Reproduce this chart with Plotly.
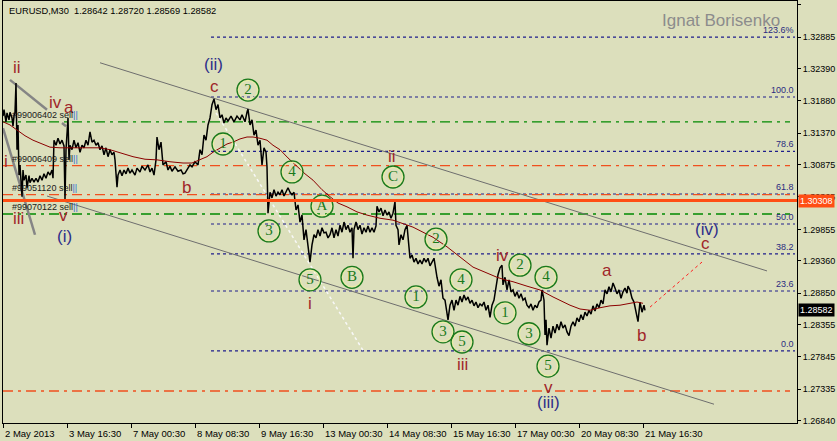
import plotly.graph_objects as go

# ---------------- data ----------------
title_text = "EURUSD,M30  1.28642 1.28720 1.28569 1.28582"

price_bars = [0,1,3,4,6,7,9,10,11,12,13,14,15,16,17,18,19,20,21,23,24,26,27,29,31,33,35,37,39,41,43,45,47,49,50,51,53,55,57,59,61,62,63,65,66,67,69,71,73,75,77,79,81,83,85,87,89,91,93,95,97,99,101,103,105,107,109,111,112,114,115,117,119,121,123,125,127,129,132,134,137,139,142,145,147,149,151,153,154,156,158,160,163,165,167,169,172,175,178,180,182,185,187,189,192,195,197,199,201,203,205,207,209,211,213,215,217,219,221,223,225,228,231,234,237,239,242,244,245,247,249,251,253,255,257,259,261,263,264,265,267,269,271,273,275,277,279,281,283,285,287,289,291,293,295,297,299,301,303,305,307,309,311,313,315,317,319,321,323,325,327,329,331,333,335,337,339,341,343,345,347,349,350,351,353,355,357,359,361,363,365,367,369,371,373,374,376,378,380,382,384,386,388,390,392,393,395,396,398,400,402,404,405,407,409,411,413,415,417,419,421,423,425,427,429,431,434,436,438,440,442,444,445,447,449,451,453,455,457,459,461,463,465,467,469,471,473,475,477,479,481,483,485,487,489,491,493,495,497,499,500,502,504,506,508,510,512,514,516,518,520,522,524,526,528,530,532,534,536,538,539,541,542,543,544,546,548,550,552,554,556,558,560,562,564,566,568,570,572,574,576,578,580,582,584,586,588,590,592,594,596,598,600,602,604,606,608,610,612,614,616,618,620,622,624,625,627,629,631,633,635,637,639,641,642]
price_vals = [1.3164,1.3174,1.3155,1.3169,1.3158,1.3170,1.3161,1.3148,1.3164,1.3170,1.3216,1.3111,1.3150,1.3071,1.3087,1.3055,1.3037,1.3079,1.3063,1.3071,1.3051,1.3070,1.3059,1.3066,1.3060,1.3066,1.3060,1.3070,1.3063,1.3073,1.3066,1.3076,1.3071,1.3079,1.3066,1.3126,1.3118,1.3129,1.3120,1.3126,1.3117,1.3032,1.3111,1.3161,1.3095,1.3118,1.3111,1.3126,1.3114,1.3122,1.3107,1.3118,1.3114,1.3126,1.3118,1.3139,1.3123,1.3126,1.3118,1.3122,1.3111,1.3117,1.3103,1.3114,1.3100,1.3111,1.3103,1.3107,1.3095,1.3052,1.3071,1.3079,1.3070,1.3079,1.3073,1.3082,1.3074,1.3079,1.3071,1.3082,1.3076,1.3085,1.3079,1.3087,1.3076,1.3082,1.3071,1.3095,1.3131,1.3111,1.3123,1.3087,1.3092,1.3079,1.3085,1.3077,1.3084,1.3077,1.3079,1.3073,1.3074,1.3082,1.3087,1.3084,1.3092,1.3087,1.3111,1.3103,1.3134,1.3126,1.3150,1.3161,1.3182,1.3191,1.3174,1.3182,1.3161,1.3166,1.3153,1.3161,1.3156,1.3164,1.3155,1.3164,1.3158,1.3166,1.3155,1.3170,1.3175,1.3150,1.3158,1.3134,1.3142,1.3118,1.3126,1.3087,1.3114,1.3107,1.3084,1.3011,1.3044,1.3035,1.3048,1.3038,1.3044,1.3040,1.3048,1.3038,1.3046,1.3051,1.3044,1.3040,1.3044,1.3016,1.3024,1.2997,1.3008,1.2969,1.2985,1.2961,1.2934,1.2961,1.2977,1.2972,1.2985,1.2975,1.2988,1.2980,1.2981,1.2972,1.2977,1.2988,1.2972,1.2985,1.2975,1.2992,1.2981,1.2997,1.2985,1.2992,1.2981,1.2988,1.2940,1.2985,1.2997,1.2985,1.2992,1.2978,1.2988,1.2981,1.2991,1.2981,1.2988,1.2981,1.2991,1.3022,1.3013,1.3019,1.3007,1.3016,1.3008,1.3013,1.3003,1.3011,1.3029,1.2992,1.2985,1.2961,1.2977,1.2969,1.2985,1.2992,1.2969,1.2940,1.2945,1.2934,1.2940,1.2931,1.2937,1.2931,1.2940,1.2934,1.2940,1.2928,1.2934,1.2940,1.2910,1.2896,1.2906,1.2877,1.2874,1.2851,1.2843,1.2866,1.2874,1.2858,1.2874,1.2866,1.2880,1.2871,1.2882,1.2874,1.2879,1.2869,1.2874,1.2865,1.2871,1.2862,1.2868,1.2865,1.2871,1.2858,1.2866,1.2847,1.2866,1.2874,1.2898,1.2914,1.2925,1.2929,1.2898,1.2910,1.2890,1.2906,1.2887,1.2890,1.2880,1.2887,1.2877,1.2884,1.2874,1.2877,1.2866,1.2862,1.2868,1.2858,1.2866,1.2862,1.2871,1.2874,1.2890,1.2874,1.2819,1.2843,1.2803,1.2830,1.2814,1.2833,1.2822,1.2836,1.2827,1.2840,1.2830,1.2835,1.2824,1.2818,1.2833,1.2840,1.2833,1.2846,1.2840,1.2851,1.2843,1.2855,1.2849,1.2858,1.2852,1.2865,1.2857,1.2868,1.2862,1.2874,1.2868,1.2890,1.2884,1.2895,1.2887,1.2901,1.2893,1.2884,1.2890,1.2877,1.2887,1.2893,1.2885,1.2896,1.2890,1.2877,1.2871,1.2855,1.2840,1.2871,1.2855,1.2866,1.2858]

ma_bars = [0,7,14,22,30,39,47,57,72,87,97,107,117,130,142,154,167,180,189,197,204,210,217,224,230,237,244,250,257,264,270,277,285,294,302,310,319,327,335,344,354,364,377,390,400,410,420,430,444,457,470,482,494,502,510,524,537,550,560,567,577,587,597,607,617,627,634,640]
ma_vals = [1.3155,1.3150,1.3142,1.3133,1.3126,1.3120,1.3115,1.3114,1.3114,1.3114,1.3114,1.3111,1.3106,1.3100,1.3096,1.3095,1.3092,1.3090,1.3090,1.3095,1.3100,1.3107,1.3114,1.3120,1.3123,1.3128,1.3131,1.3131,1.3129,1.3126,1.3118,1.3111,1.3098,1.3084,1.3073,1.3063,1.3048,1.3037,1.3027,1.3021,1.3013,1.3008,1.3003,1.3000,1.2995,1.2989,1.2981,1.2973,1.2958,1.2942,1.2926,1.2918,1.2910,1.2906,1.2903,1.2896,1.2890,1.2879,1.2871,1.2866,1.2860,1.2858,1.2862,1.2865,1.2866,1.2869,1.2871,1.2869]

y_ticks = [1.33395,1.32885,1.32390,1.31880,1.31370,1.30875,1.30365,1.29855,1.29360,1.28850,1.28355,1.27845,1.27335,1.26840]
x_tick_bars = [0,64,128,192,256,320,384,448,512,576,640]
x_tick_labels = ["2 May 2013","3 May 16:30","7 May 00:30","8 May 08:30","9 May 16:30",
                 "13 May 00:30","14 May 08:30","15 May 16:30","17 May 00:30","20 May 08:30","21 May 16:30"]

fib_labels = ["123.6%","100.0","78.6","61.8","50.0","38.2","23.6","0.0"]
fib_prices = [1.32884,1.31940,1.31084,1.30412,1.29940,1.29468,1.28884,1.27940]
fib_span = [208, 792]

green_levels = [1.31547, 1.30097]
orange_levels = [1.30858, 1.30401, 1.27308]
level_span = [0, 787]
marked_price = 1.30308
last_close = 1.28582

order_labels = ["#99006402 sell","#99006409 sell","#99051120 sell","#99070122 sell"]
order_prices = [1.31547, 1.30858, 1.30401, 1.30097]

red_wave_text = ["ii","iv","a","i","iii","v","b","c","i","ii","iii","iv","v","a","b","c"]
red_wave_bar = [14,52,66,3,15,60,183,211,307,389,459,499,545,604,638,702]
red_wave_price = [1.3241,1.3186,1.3177,1.3092,1.3003,1.3008,1.3052,1.3210,1.2869,1.3101,1.2772,1.2945,1.2737,1.2920,1.2818,1.2964]

blue_wave_text = ["(i)","(ii)","(iii)","(iv)"]
blue_wave_bar = [61,210,545,704]
blue_wave_price = [1.2974,1.3245,1.2712,1.2985]

circ_text = ["1","2","3","4","5","A","B","C","2","1","4","3","5","2","1","4","3","5"]
circ_bar = [220,245,266,289,307,319,349,390,433,413,458,440,459,517,502,543,526,545]
circ_price = [1.3120,1.3205,1.2983,1.3076,1.2906,1.3022,1.2910,1.3068,1.2970,1.2879,1.2906,1.2824,1.2808,1.2929,1.2854,1.2910,1.2821,1.2770]

upper_ch_bars, upper_ch_prices = [97, 764], [1.3248, 1.2920]
lower_ch_bars, lower_ch_prices = [44, 711], [1.3038, 1.2710]
thick1_bars, thick1_prices = [7, 44], [1.3221, 1.3174]
thick2_bars, thick2_prices = [59, 63], [1.3153, 1.3148]
thick3_bars, thick3_prices = [0, 32], [1.3145, 1.2977]
white_bars, white_prices = [213, 360], [1.3169, 1.2795]
proj_bars, proj_prices = [647, 699], [1.2863, 1.2934]

# ---------------- figure ----------------
BG = "#DCDFBC"
FONT = "Liberation Sans"
RED = "#A0262A"
NAVY = "#2E2E8A"
GREEN = "#1A7A1A"

fig = go.Figure()

def line(x, y, color, width, dash=None):
    fig.add_trace(go.Scatter(x=x, y=y, mode="lines", hoverinfo="skip",
                             line=dict(color=color, width=width, dash=dash)))

for p in fib_prices:
    line(fib_span, [p, p], "#1E1E8C", 1.1, "dot")
for p in green_levels:
    line(level_span, [p, p], "#008A00", 1.3, "10px,5px,3px,5px")
for p in orange_levels:
    line(level_span, [p, p], "#F0501E", 1.3, "10px,5px,3px,5px")

fig.add_shape(type="line", xref="paper", x0=0, x1=1, yref="y", y0=marked_price, y1=marked_price,
              line=dict(color="#FF4E14", width=3))

line(upper_ch_bars, upper_ch_prices, "#6E6E6E", 1)
line(lower_ch_bars, lower_ch_prices, "#6E6E6E", 1)
line(thick1_bars, thick1_prices, "#858585", 2.5)
line(thick2_bars, thick2_prices, "#858585", 2.5)
line(thick3_bars, thick3_prices, "#858585", 2.5)
line(white_bars, white_prices, "#F8F8F8", 1.5, "dot")
line(proj_bars, proj_prices, "#FF2020", 1, "dot")

line(price_bars, price_vals, "#000000", 1.5)
line(ma_bars, ma_vals, "#8B0000", 1)

# circled wave labels
fig.add_trace(go.Scatter(x=circ_bar, y=circ_price, mode="markers", hoverinfo="skip",
                         marker=dict(symbol="circle-open", size=19, color="#EEF0A0", line=dict(width=1))))
fig.add_trace(go.Scatter(x=circ_bar, y=circ_price, mode="markers+text", hoverinfo="skip",
                         text=circ_text, textposition="middle center",
                         textfont=dict(family="Liberation Serif", size=15, color=GREEN),
                         marker=dict(symbol="circle-open", size=22, color=GREEN, line=dict(width=1.3))))

ann = []
for t, b, p in zip(red_wave_text, red_wave_bar, red_wave_price):
    ann.append(dict(x=b, y=p, text=t, showarrow=False, xanchor="center", yanchor="middle",
                    font=dict(family=FONT, size=17, color=RED)))
for t, b, p in zip(blue_wave_text, blue_wave_bar, blue_wave_price):
    ann.append(dict(x=b, y=p, text=t, showarrow=False, xanchor="center", yanchor="middle",
                    font=dict(family=FONT, size=17, color=NAVY)))
for t, p in zip(order_labels, order_prices):
    ann.append(dict(x=7, y=p, text=t + "<span style='color:#2F6FD8'>||</span>", showarrow=False,
                    xanchor="left", yanchor="bottom", font=dict(family=FONT, size=9, color="#1A1A1A")))
for t, p in zip(fib_labels, fib_prices):
    ann.append(dict(x=793, y=p, text=t, showarrow=False, xanchor="right", yanchor="bottom",
                    font=dict(family=FONT, size=9, color="#2B2B80")))
for t, b in zip(x_tick_labels, x_tick_bars):
    ann.append(dict(x=b, xref="x", y=0, yref="paper", text=t, showarrow=False, xanchor="left",
                    yanchor="top", yshift=-3, font=dict(family=FONT, size=9.5, color="#000000")))
ann.append(dict(x=4, y=1.3330, text=title_text, showarrow=False, xanchor="left", yanchor="middle",
                font=dict(family=FONT, size=9.3, color="#000000")))
ann.append(dict(x=718, y=1.3314, text="Ignat Borisenko", showarrow=False, xanchor="center", yanchor="middle",
                font=dict(family=FONT, size=17, color="#8C8C8C")))
ann.append(dict(x=1, xref="paper", y=marked_price, text="1.30308", showarrow=False, xanchor="left",
                yanchor="middle", xshift=1, bgcolor="#FF4E14", borderpad=1,
                font=dict(family=FONT, size=9, color="#FFFFFF")))
ann.append(dict(x=1, xref="paper", y=last_close, text="1.28582", showarrow=False, xanchor="left",
                yanchor="middle", xshift=1, bgcolor="#000000", borderpad=1,
                font=dict(family=FONT, size=9, color="#FFFFFF")))

fig.update_layout(
    width=837, height=441,
    margin=dict(l=3, r=40, t=1, b=18, pad=0),
    paper_bgcolor=BG, plot_bgcolor=BG,
    showlegend=False,
    annotations=ann,
    xaxis=dict(range=[0, 794], showgrid=False, zeroline=False, showline=True, linecolor="#000000",
               linewidth=1, mirror=True, ticks="outside", ticklen=4, tickcolor="#000000",
               tickvals=x_tick_bars, showticklabels=False, automargin=False, fixedrange=True),
    yaxis=dict(range=[1.26804, 1.33453], side="right", showgrid=False, zeroline=False, showline=True,
               linecolor="#000000", linewidth=1, mirror=True, ticks="outside", ticklen=3,
               tickcolor="#000000", tickvals=y_ticks, ticktext=[f"{v:.5f}" for v in y_ticks],
               tickfont=dict(family=FONT, size=9, color="#000000"), automargin=False, fixedrange=True),
)

fig.write_html("out.html")
